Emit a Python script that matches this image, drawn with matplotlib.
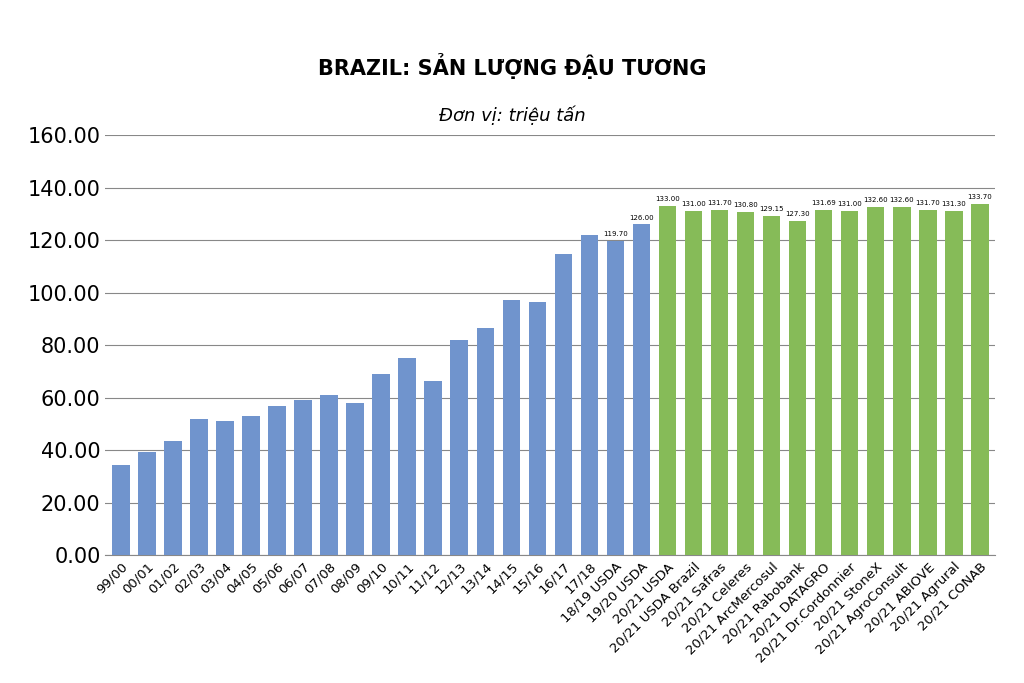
import matplotlib.pyplot as plt
import numpy as np

hist_labels = ['99/00', '00/01', '01/02', '02/03', '03/04', '04/05', '05/06', '06/07',
               '07/08', '08/09', '09/10', '10/11', '11/12', '12/13', '13/14', '14/15',
               '15/16', '16/17', '17/18', '18/19 USDA', '19/20 USDA']
hist_values = [34.5, 39.5, 43.5, 52.0, 51.0, 53.0, 57.0, 59.0, 61.0, 58.0, 69.0, 75.3,
               66.5, 82.0, 86.7, 97.2, 96.5, 114.9, 122.0, 119.70, 126.00]
fc_labels = ['20/21 USDA', '20/21 USDA Brazil', '20/21 Safras', '20/21 Celeres',
             '20/21 ArcMercosul', '20/21 Rabobank', '20/21 DATAGRO', '20/21 Dr.Cordonnier',
             '20/21 StoneX', '20/21 AgroConsult', '20/21 ABIOVE', '20/21 Agrural', '20/21 CONAB']
fc_values = [133.00, 131.00, 131.70, 130.80, 129.15, 127.30, 131.69, 131.00,
             132.60, 132.60, 131.70, 131.30, 133.70]

labels = hist_labels + fc_labels
values = hist_values + fc_values
colors = ['#7094cd'] * len(hist_values) + ['#86bb58'] * len(fc_values)

fig, ax = plt.subplots(figsize=(10.24, 6.83), dpi=100)
fig.subplots_adjust(left=0.103, right=0.972, top=0.802, bottom=0.187)

x = np.arange(len(values))
ax.bar(x, values, width=0.68, color=colors, zorder=3)

# data labels only on the last two USDA years and every forecast
for i, v in enumerate(values):
    if i >= len(hist_values) - 2:
        ax.text(i, v + 1.5, f'{v:.2f}', ha='center', va='bottom', fontsize=5)

ax.set_xlim(-0.6, len(values) - 0.4)
ax.set_ylim(0, 160)
ax.set_yticks(np.arange(0, 161, 20))
ax.yaxis.set_major_formatter(lambda v, _: f'{v:.2f}')
ax.tick_params(axis='y', labelsize=15, length=0)
ax.set_xticks(x)
ax.set_xticklabels(labels, rotation=45, ha='right', rotation_mode='anchor', fontsize=9.5)
ax.tick_params(axis='x', length=0)
ax.grid(axis='y', color='#888888', linewidth=0.8, zorder=0)
for s in ['top', 'right', 'left']:
    ax.spines[s].set_visible(False)
ax.spines['bottom'].set_color('#888888')

# title and unit
fig.text(0.5, 0.89, 'BRAZIL: SẢN LƯỢNG ĐẬU TƯƠNG', ha='center', fontsize=15, fontweight='bold')
fig.text(0.5, 0.823, 'Đơn vị: triệu tấn', ha='center', fontsize=13, style='italic')

plt.savefig('out.png')
